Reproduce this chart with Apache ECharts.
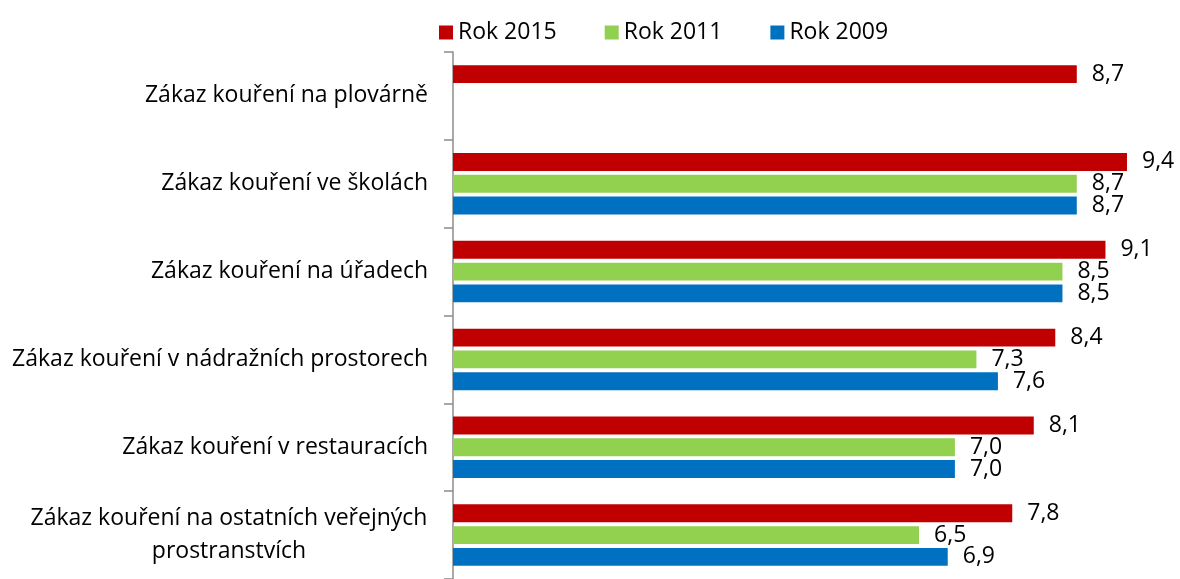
<!DOCTYPE html>
<html>
<head>
<meta charset="utf-8">
<script src="https://cdn.jsdelivr.net/npm/echarts@6/dist/echarts.min.js"></script>
<style>
  html, body { margin: 0; padding: 0; background: #fff; }
  #chart { width: 1180px; height: 579px; }
</style>
</head>
<body>
<div id="chart"></div>
<script>
// Categories (top to bottom)
const categories = [
  'Zákaz kouření na plovárně',
  'Zákaz kouření ve školách',
  'Zákaz kouření na úřadech',
  'Zákaz kouření v nádražních prostorech',
  'Zákaz kouření v restauracích',
  'Zákaz kouření na ostatních veřejných\nprostranstvích'
];
const seriesNames = ['Rok 2015', 'Rok 2011', 'Rok 2009'];
const values2015 = [8.7, 9.4, 9.1, 8.4, 8.1, 7.8];
const values2011 = [null, 8.7, 8.5, 7.3, 7.0, 6.5];
const values2009 = [null, 8.7, 8.5, 7.6, 7.0, 6.9];

const colors = ['#C00000', '#92D050', '#0070C0'];
const FONT = 'Open Sans';
const FS = 23;

const chart = echarts.init(document.getElementById('chart'), null, { renderer: 'canvas' });

function makeSeries(name, data, color) {
  return {
    name: name,
    type: 'bar',
    data: data,
    itemStyle: { color: color },
    barGap: '22%',
    barCategoryGap: '30%',
    label: {
      show: true,
      position: 'right',
      distance: 15,
      color: '#000',
      fontFamily: FONT,
      fontSize: FS,
      formatter: p => (p.value == null ? '' : p.value.toFixed(1).replace('.', ','))
    }
  };
}

chart.setOption({
  animation: false,
  legend: {
    top: 16,
    left: 434,
    itemWidth: 14,
    itemHeight: 14,
    itemGap: 48,
    icon: 'rect',
    textStyle: { fontFamily: FONT, fontSize: FS, color: '#000', width: 100 },
    data: seriesNames
  },
  grid: { left: 453, width: 717, top: 52, bottom: -4, containLabel: false },
  xAxis: { type: 'value', min: 0, max: 10, show: false },
  yAxis: {
    type: 'category',
    inverse: true,
    data: categories,
    axisLine: { show: true, lineStyle: { color: '#8c8c8c', width: 1.5 } },
    axisTick: { show: true, alignWithLabel: false, length: 9, lineStyle: { color: '#8c8c8c', width: 1.5 } },
    axisLabel: {
      margin: 25,
      color: '#000',
      fontFamily: FONT,
      fontSize: FS,
      lineHeight: 33,
      formatter: v => v.indexOf('\n') >= 0 ? v.split('\n').map(s => '{c|' + s + '}').join('\n') : v,
      rich: { c: { width: 398, align: 'center', fontFamily: FONT, fontSize: FS, color: '#000', lineHeight: 33 } }
    }
  },
  series: [
    makeSeries(seriesNames[0], values2015, colors[0]),
    makeSeries(seriesNames[1], values2011, colors[1]),
    makeSeries(seriesNames[2], values2009, colors[2])
  ]
});
</script>
</body>
</html>
